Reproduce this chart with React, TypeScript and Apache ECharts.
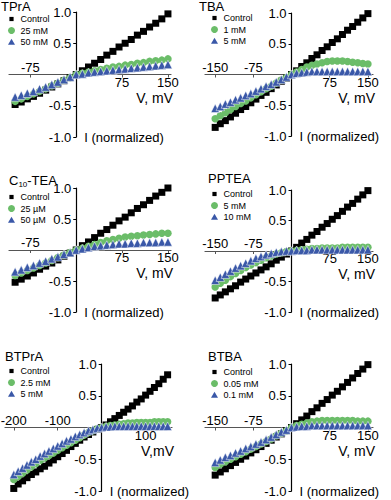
import React, { useEffect, useRef } from 'react';
import * as echarts from 'echarts';

const FONT = "'Liberation Sans', Arial, Helvetica, sans-serif";
const BLACK = '#000000';
const GREEN = '#6bbd69';
const BLUE = '#3a58a8';

// Voltage steps (mV)
const V100 = [-100, -90, -80, -70, -60, -50, -40, -30, -20, -10, 0, 10, 20, 30, 40, 50, 60, 70, 80, 90, 100, 110, 120, 130, 140, 150];
const V150 = [-150, -140, -130, -120, -110, -100, -90, -80, -70, -60, -50, -40, -30, -20, -10, 0, 10, 20, 30, 40, 50, 60, 70, 80, 90, 100, 110, 120, 130, 140, 150];
const V200 = [-200, -190, -180, -170, -160, -150, -140, -130, -120, -110, -100, -90, -80, -70, -60, -50, -40, -30, -20, -10, 0, 10, 20, 30, 40, 50, 60, 70, 80, 90, 100, 110, 120, 130, 140, 150];

// TPrA
const TPRA_CTRL = [-0.48, -0.44, -0.39, -0.35, -0.30, -0.25, -0.20, -0.15, -0.10, -0.05, 0.00, 0.06, 0.12, 0.18, 0.24, 0.31, 0.37, 0.44, 0.50, 0.56, 0.63, 0.69, 0.76, 0.82, 0.89, 0.97];
const TPRA_25 = [-0.43, -0.39, -0.35, -0.31, -0.27, -0.23, -0.18, -0.14, -0.09, -0.05, 0.00, 0.02, 0.04, 0.06, 0.08, 0.10, 0.12, 0.13, 0.15, 0.16, 0.18, 0.19, 0.21, 0.22, 0.23, 0.25];
const TPRA_50 = [-0.36, -0.33, -0.30, -0.27, -0.23, -0.20, -0.16, -0.12, -0.08, -0.04, 0.00, 0.01, 0.03, 0.04, 0.05, 0.06, 0.07, 0.08, 0.09, 0.10, 0.11, 0.12, 0.13, 0.14, 0.15, 0.16];

// TBA
const TBA_CTRL = [-0.86, -0.80, -0.75, -0.69, -0.63, -0.57, -0.52, -0.46, -0.40, -0.34, -0.29, -0.23, -0.17, -0.11, -0.06, 0.00, 0.06, 0.13, 0.19, 0.26, 0.32, 0.39, 0.45, 0.52, 0.58, 0.65, 0.72, 0.78, 0.85, 0.92, 0.99];
const TBA_1 = [-0.72, -0.67, -0.62, -0.57, -0.52, -0.47, -0.43, -0.38, -0.33, -0.28, -0.23, -0.19, -0.14, -0.09, -0.05, 0.00, 0.04, 0.08, 0.12, 0.15, 0.17, 0.19, 0.21, 0.22, 0.22, 0.22, 0.21, 0.20, 0.19, 0.18, 0.17];
const TBA_5 = [-0.55, -0.52, -0.48, -0.45, -0.41, -0.38, -0.34, -0.31, -0.27, -0.23, -0.19, -0.16, -0.12, -0.08, -0.04, 0.00, 0.02, 0.03, 0.04, 0.05, 0.05, 0.05, 0.05, 0.05, 0.05, 0.05, 0.05, 0.05, 0.05, 0.05, 0.05];

// C10-TEA
const C10_CTRL = [-0.52, -0.47, -0.42, -0.37, -0.31, -0.26, -0.21, -0.16, -0.10, -0.05, 0.00, 0.07, 0.13, 0.20, 0.27, 0.33, 0.40, 0.47, 0.53, 0.60, 0.67, 0.73, 0.80, 0.87, 0.93, 1.00];
const C10_25 = [-0.41, -0.37, -0.33, -0.29, -0.25, -0.21, -0.17, -0.12, -0.08, -0.04, 0.00, 0.03, 0.06, 0.09, 0.12, 0.15, 0.17, 0.19, 0.21, 0.22, 0.23, 0.24, 0.25, 0.26, 0.27, 0.27];
const C10_50 = [-0.35, -0.32, -0.28, -0.25, -0.21, -0.18, -0.14, -0.11, -0.07, -0.04, 0.00, 0.02, 0.04, 0.06, 0.07, 0.08, 0.09, 0.10, 0.10, 0.11, 0.11, 0.12, 0.12, 0.12, 0.13, 0.13];

// PPTEA
const PPTEA_CTRL = [-0.77, -0.72, -0.67, -0.62, -0.57, -0.51, -0.46, -0.41, -0.36, -0.31, -0.26, -0.21, -0.15, -0.10, -0.05, 0.00, 0.06, 0.13, 0.19, 0.26, 0.32, 0.39, 0.45, 0.52, 0.58, 0.65, 0.72, 0.78, 0.85, 0.92, 0.99];
const PPTEA_5 = [-0.59, -0.53, -0.48, -0.42, -0.37, -0.32, -0.27, -0.23, -0.19, -0.15, -0.11, -0.08, -0.05, -0.03, -0.01, 0.00, 0.01, 0.02, 0.03, 0.04, 0.04, 0.05, 0.05, 0.05, 0.05, 0.06, 0.06, 0.06, 0.06, 0.06, 0.06];
const PPTEA_10 = [-0.48, -0.43, -0.38, -0.33, -0.28, -0.24, -0.20, -0.16, -0.12, -0.09, -0.06, -0.04, -0.02, -0.01, 0.00, 0.00, 0.01, 0.01, 0.01, 0.02, 0.02, 0.02, 0.02, 0.02, 0.02, 0.02, 0.02, 0.02, 0.02, 0.02, 0.02];

// BTPrA
const BTPRA_CTRL = [-0.96, -0.89, -0.84, -0.79, -0.74, -0.70, -0.65, -0.61, -0.56, -0.51, -0.46, -0.41, -0.36, -0.30, -0.25, -0.20, -0.15, -0.11, -0.07, -0.03, 0.00, 0.04, 0.09, 0.14, 0.19, 0.24, 0.29, 0.34, 0.40, 0.45, 0.51, 0.57, 0.63, 0.69, 0.76, 0.83];
const BTPRA_25 = [-0.82, -0.77, -0.72, -0.67, -0.62, -0.57, -0.52, -0.48, -0.44, -0.40, -0.36, -0.32, -0.28, -0.24, -0.20, -0.16, -0.12, -0.08, -0.05, -0.02, 0.00, 0.02, 0.03, 0.04, 0.05, 0.06, 0.07, 0.07, 0.08, 0.08, 0.08, 0.08, 0.09, 0.09, 0.09, 0.09];
const BTPRA_5 = [-0.74, -0.69, -0.64, -0.59, -0.54, -0.50, -0.45, -0.41, -0.37, -0.33, -0.29, -0.25, -0.21, -0.18, -0.14, -0.11, -0.08, -0.05, -0.03, -0.01, 0.00, 0.01, 0.01, 0.02, 0.02, 0.02, 0.02, 0.02, 0.02, 0.02, 0.02, 0.02, 0.02, 0.02, 0.02, 0.02];

// BTBA
const BTBA_CTRL = [-0.75, -0.70, -0.65, -0.60, -0.55, -0.50, -0.45, -0.40, -0.35, -0.30, -0.25, -0.20, -0.15, -0.10, -0.05, 0.00, 0.06, 0.12, 0.18, 0.25, 0.31, 0.38, 0.44, 0.51, 0.57, 0.64, 0.71, 0.78, 0.85, 0.92, 0.99];
const BTBA_005 = [-0.63, -0.58, -0.54, -0.50, -0.46, -0.42, -0.38, -0.34, -0.30, -0.26, -0.22, -0.18, -0.13, -0.09, -0.05, 0.00, 0.03, 0.05, 0.07, 0.09, 0.10, 0.11, 0.11, 0.11, 0.11, 0.11, 0.11, 0.11, 0.10, 0.10, 0.10];
const BTBA_01 = [-0.55, -0.51, -0.47, -0.44, -0.40, -0.37, -0.33, -0.30, -0.26, -0.23, -0.19, -0.15, -0.11, -0.07, -0.04, 0.00, 0.01, 0.02, 0.02, 0.03, 0.03, 0.03, 0.03, 0.03, 0.03, 0.03, 0.03, 0.03, 0.03, 0.03, 0.03];

const Y_TICKS = [-1, -0.5, 0.5, 1];
const Y_MIN = -1;
const Y_MAX = 1;

const PANELS = [
  { title: 'TPrA', tl: 1, tt: 0, V: V100, data: [TPRA_CTRL, TPRA_25, TPRA_50], names: ['Control', '25 mM', '50 mM'],
    grid: { left: 9, top: 12, width: 162, height: 125 }, xMin: -110, xMax: 155, pos: [75, 150], neg: [-75], ll: 8, lt: 14, xName: 'V, mV' },
  { title: 'TBA', tl: 199, tt: 0, V: V150, data: [TBA_CTRL, TBA_1, TBA_5], names: ['Control', '1 mM', '5 mM'],
    grid: { left: 205, top: 13, width: 168, height: 123 }, xMin: -170, xMax: 160, pos: [75, 150], neg: [-150, -75], ll: 211, lt: 13, xName: 'V, mV' },
  { title: '{a|C}{b|10}{a|-TEA}', tl: 9, tt: 172, V: V100, data: [C10_CTRL, C10_25, C10_50], names: ['Control', '25 µM', '50 µM'],
    grid: { left: 9, top: 188, width: 162, height: 124 }, xMin: -110, xMax: 155, pos: [75, 150], neg: [-75], ll: 8, lt: 192, xName: 'V, mV' },
  { title: 'PPTEA', tl: 208, tt: 172, V: V150, data: [PPTEA_CTRL, PPTEA_5, PPTEA_10], names: ['Control', '5 mM', '10 mM'],
    grid: { left: 205, top: 190, width: 168, height: 122 }, xMin: -170, xMax: 160, pos: [75, 150], neg: [-150, -75], ll: 211, lt: 189, xName: 'V, mV' },
  { title: 'BTPrA', tl: 5, tt: 350, V: V200, data: [BTPRA_CTRL, BTPRA_25, BTPRA_5], names: ['Control', '2.5 mM', '5 mM'],
    grid: { left: 5, top: 364, width: 167, height: 127 }, xMin: -220, xMax: 160, pos: [100], neg: [-200, -100], ll: 8, lt: 366, xName: 'V,mV' },
  { title: 'BTBA', tl: 208, tt: 350, V: V150, data: [BTBA_CTRL, BTBA_005, BTBA_01], names: ['Control', '0.05 mM', '0.1 mM'],
    grid: { left: 205, top: 364, width: 168, height: 127 }, xMin: -170, xMax: 160, pos: [75, 150], neg: [-150, -75], ll: 211, lt: 367, xName: 'V, mV' },
];

const COLORS = [BLACK, GREEN, BLUE];
const SYMBOLS = ['rect', 'circle', 'triangle'];
const SYMBOL_SIZES = [7, 7.5, 8.5];
const LEGEND_ICONS = ['path://M0,0M10,10M2,2h6v6h-6z', 'circle', 'path://M0,0M10,10M0,9L5,0.5L10,9z'];

function buildOption() {
  const txt = { fontFamily: FONT, color: '#000' };
  return {
    animation: false,
    backgroundColor: '#fff',
    title: PANELS.map((p) => ({
      text: p.title,
      left: p.tl,
      top: p.tt,
      padding: 0,
      textStyle: {
        ...txt, fontSize: 13, fontWeight: 'normal',
        rich: {
          a: { ...txt, fontSize: 13, lineHeight: 16 },
          b: { ...txt, fontSize: 8, lineHeight: 9, verticalAlign: 'bottom' },
        },
      },
    })),
    legend: PANELS.map((p, k) => ({
      orient: 'vertical',
      left: p.ll,
      top: p.lt,
      padding: 0,
      itemWidth: 8,
      itemHeight: 7,
      itemGap: 1.5,
      selectedMode: false,
      textStyle: { ...txt, fontSize: 9, lineHeight: 10 },
      formatter: (name: string) => name.split('|')[1],
      data: p.names.map((n, i) => ({ name: `${k}|${n}`, icon: LEGEND_ICONS[i], itemStyle: { color: COLORS[i], borderWidth: 0 } })),
    })),
    grid: PANELS.map((p) => ({ ...p.grid, containLabel: false, outerBoundsMode: 'none' })),
    xAxis: PANELS.flatMap((p, k) => {
      // place the horizontal axis on the I = 0 line
      const off = -p.grid.height * (Y_MAX - 0) / (Y_MAX - Y_MIN);
      return [
        {
          gridIndex: k, type: 'value', min: p.xMin, max: p.xMax, position: 'bottom', offset: off,
          axisLine: { onZero: false, lineStyle: { color: '#555', width: 1.2 } },
          axisTick: { show: true, length: 3, customValues: p.pos, lineStyle: { color: '#555' } },
          axisLabel: { customValues: p.pos, margin: 1, fontSize: 13, ...txt },
          splitLine: { show: false },
          name: p.xName, nameLocation: 'end', nameGap: 2, nameMoveOverlap: false,
          nameTextStyle: { ...txt, fontSize: 14, align: 'right', verticalAlign: 'top', padding: [16, 0, 0, 0] },
        },
        {
          gridIndex: k, type: 'value', position: 'top', min: p.xMin, max: p.xMax, offset: off,
          axisLine: { show: false, onZero: false },
          axisTick: { show: true, inside: true, length: 3, customValues: p.neg, lineStyle: { color: '#555' } },
          axisLabel: { customValues: p.neg, margin: 1, fontSize: 13, ...txt },
          splitLine: { show: false },
        },
      ];
    }),
    yAxis: PANELS.map((p, k) => {
      // place the vertical axis on the V = 0 line
      const off = -p.grid.width * (0 - p.xMin) / (p.xMax - p.xMin);
      return {
        gridIndex: k, type: 'value', min: Y_MIN, max: Y_MAX, position: 'left', offset: off,
        axisLine: { onZero: false, lineStyle: { color: '#000', width: 1.2 } },
        axisTick: { show: true, length: 3, customValues: Y_TICKS, lineStyle: { color: '#000' } },
        axisLabel: { customValues: Y_TICKS, formatter: (v: number) => v.toFixed(1), margin: 5, fontSize: 13, ...txt },
        splitLine: { show: false },
        name: 'I (normalized)', nameLocation: 'start', nameGap: 0, nameMoveOverlap: false,
        nameTextStyle: { ...txt, fontSize: 13, align: 'left', verticalAlign: 'middle', padding: [0, 0, 0, 8] },
      };
    }),
    series: PANELS.flatMap((p, k) =>
      p.data.map((d, i) => ({
        type: 'scatter',
        name: `${k}|${p.names[i]}`,
        xAxisIndex: 2 * k,
        yAxisIndex: k,
        symbol: SYMBOLS[i],
        symbolSize: SYMBOL_SIZES[i],
        itemStyle: i === 2
          ? { color: COLORS[i], opacity: 1, borderColor: '#ffffff', borderWidth: 0.5 }
          : { color: COLORS[i], opacity: 1 },
        emphasis: { disabled: true },
        data: p.V.map((v, j) => [v, d[j]]),
      }))
    ),
  };
}

export default function App() {
  const ref = useRef<HTMLDivElement>(null);
  useEffect(() => {
    document.body.style.margin = '0';
    if (!ref.current) return;
    const chart = echarts.init(ref.current, undefined, { renderer: 'svg' });
    chart.setOption(buildOption() as any);
    return () => chart.dispose();
  }, []);
  return <div ref={ref} style={{ position: 'absolute', left: 0, top: 0, width: 391, height: 500 }} />;
}
